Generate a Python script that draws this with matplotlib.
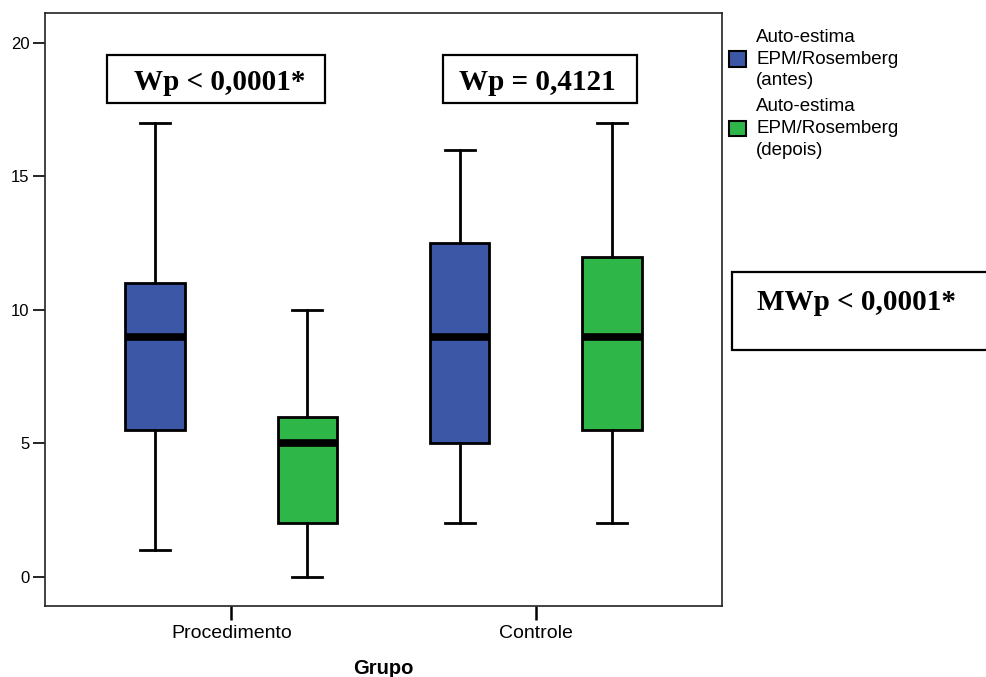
import matplotlib
matplotlib.use("Agg")
import matplotlib.pyplot as plt
from matplotlib.patches import Patch, Rectangle

plt.rcParams['font.family'] = ['Liberation Sans', 'DejaVu Sans']

# data
groups = ["Procedimento", "Controle"]
series = ["Auto-estima\nEPM/Rosemberg\n(antes)", "Auto-estima\nEPM/Rosemberg\n(depois)"]
colors = ["#3D57A7", "#2EB748"]
# per group: [antes, depois]
whislo = [[1, 0], [2, 2]]
q1 = [[5.5, 2], [5, 5.5]]
med = [[9, 5], [9, 9]]
q3 = [[11, 6], [12.5, 12]]
whishi = [[17, 10], [16, 17]]
yticks = [0, 5, 10, 15, 20]
wp_labels = ["Wp < 0,0001*", "Wp = 0,4121"]
mwp_label = "MWp < 0,0001*"

W, H = 987, 677
fig = plt.figure(figsize=(W / 100, H / 100), dpi=100)
ax = fig.add_axes([45 / W, 1 - 606 / H, (722 - 45) / W, (606 - 13) / H])

offset, width = 0.25, 0.197
for g in range(len(groups)):
    for s in range(len(series)):
        st = dict(whislo=whislo[g][s], q1=q1[g][s], med=med[g][s],
                  q3=q3[g][s], whishi=whishi[g][s], fliers=[])
        ax.bxp([st], positions=[g + (s - 0.5) * 2 * offset], widths=width,
               patch_artist=True, showfliers=False, capwidths=width / 2,
               boxprops=dict(facecolor=colors[s], edgecolor='black', linewidth=2),
               medianprops=dict(color='black', linewidth=5.5, solid_capstyle='butt'),
               whiskerprops=dict(color='black', linewidth=2),
               capprops=dict(color='black', linewidth=2))

ax.set_xlim(-0.613, 1.613)
ax.set_ylim(-1.09, 21.12)
ax.set_yticks(yticks)
ax.set_yticklabels([str(t) for t in yticks])
ax.set_xticks(range(len(groups)))
ax.set_xticklabels(groups)
ax.tick_params(axis='y', length=9, width=1.2, pad=2, labelsize=12)
ax.tick_params(axis='x', length=10, width=1.8, pad=4, labelsize=14)
for sp in ax.spines.values():
    sp.set_linewidth(1.2)
    sp.set_color('#222222')
ax.set_xlabel("Grupo", fontsize=14.5, fontweight='bold', labelpad=12)

# annotation boxes
def fig_box(x0, y0, x1, y1, text, tx, ty):
    fig.add_artist(Rectangle((x0 / W, 1 - y1 / H), (x1 - x0) / W, (y1 - y0) / H,
                             transform=fig.transFigure, facecolor='white',
                             edgecolor='black', linewidth=1.6, clip_on=False))
    fig.text(tx / W, 1 - ty / H, text, family=['Liberation Serif', 'DejaVu Serif'],
             fontweight='bold', fontsize=21, ha='center', va='center')

fig_box(107, 55, 325, 103, wp_labels[0], 220, 82)
fig_box(443, 55, 637, 103, wp_labels[1], 537, 82)
fig_box(732, 272, 992, 350, mwp_label, 857, 302)

handles = [Patch(facecolor=c, edgecolor='black', linewidth=1.5) for c in colors]
leg = fig.legend(handles, series, loc='upper left', bbox_to_anchor=(729 / W, 1 - 29 / H),
                 frameon=False, fontsize=13.5, handlelength=0.9, handleheight=0.9,
                 handletextpad=0.55, labelspacing=0.5, borderaxespad=0, borderpad=0)
for t in leg.get_texts():
    t.set_linespacing(1.35)

fig.savefig("out.png", dpi=100)
